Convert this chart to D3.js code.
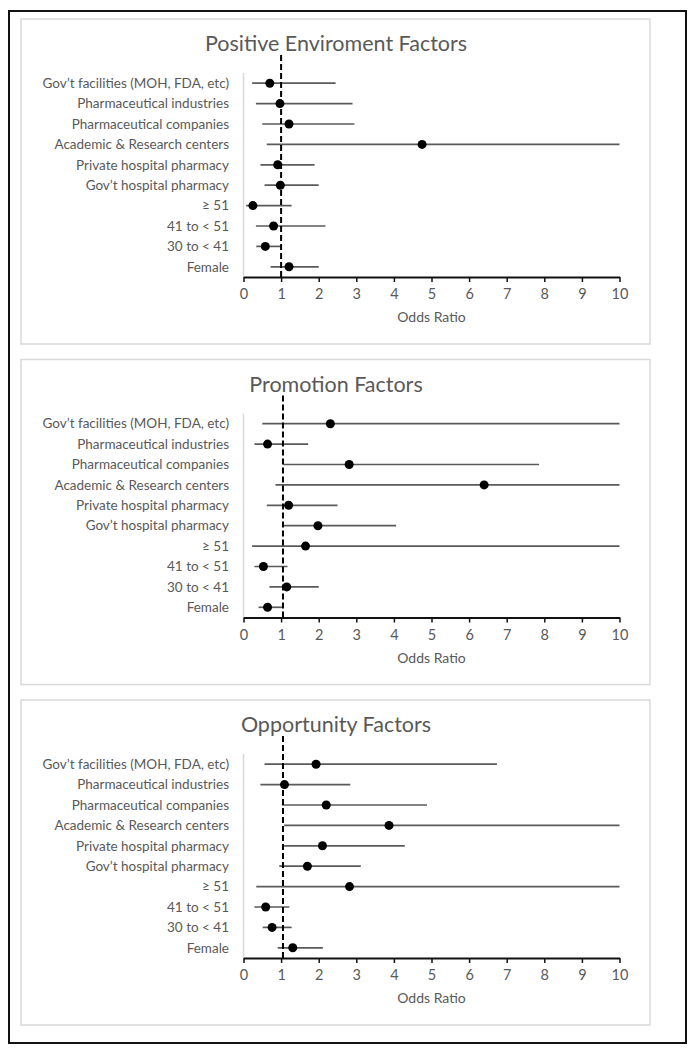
<!doctype html>
<html>
<head>
<meta charset="utf-8">
<style>
  body { margin: 0; background: #fff; }
  text { font-family: Lato, "Open Sans", sans-serif; }
</style>
</head>
<body>
<svg id="chart" width="692" height="1057"></svg>
<script src="https://d3js.org/d3.v7.min.js"></script>
<script>
// categories, top to bottom
const categories = ["Gov’t facilities (MOH, FDA, etc)", "Pharmaceutical industries", "Pharmaceutical companies",
  "Academic & Research centers", "Private hospital pharmacy", "Gov’t hospital pharmacy",
  "≥ 51", "41 to < 51", "30 to < 41", "Female"];

const titles = ["Positive Enviroment Factors", "Promotion Factors", "Opportunity Factors"];
const xTicks = [0, 1, 2, 3, 4, 5, 6, 7, 8, 9, 10];
const refLine = [1, 1.05, 1.05];

// odds ratio + lower / upper CI
const envOR = [0.70, 0.97, 1.21, 4.75, 0.91, 0.98, 0.25, 0.80, 0.58, 1.21];
const envLo = [0.23, 0.33, 0.50, 0.62, 0.45, 0.56, 0.07, 0.33, 0.34, 0.72];
const envHi = [2.45, 2.90, 2.95, 10, 1.89, 2.00, 1.28, 2.18, 0.99, 2.00];

const promOR = [2.31, 0.64, 2.81, 6.40, 1.20, 1.98, 1.65, 0.53, 1.15, 0.64];
const promLo = [0.50, 0.29, 1.06, 0.85, 0.62, 1.04, 0.23, 0.29, 0.69, 0.40];
const promHi = [10, 1.72, 7.86, 10, 2.50, 4.06, 10, 1.17, 2.00, 1.06];

const oppOR = [1.93, 1.09, 2.20, 3.87, 2.10, 1.70, 2.82, 0.59, 0.76, 1.31];
const oppLo = [0.56, 0.45, 1.02, 1.08, 1.08, 0.95, 0.34, 0.29, 0.51, 0.91];
const oppHi = [6.74, 2.84, 4.88, 10, 4.29, 3.12, 10, 1.22, 1.28, 2.11];

const panels = [
  { or: envOR, lo: envLo, hi: envHi },
  { or: promOR, lo: promLo, hi: promHi },
  { or: oppOR, lo: oppLo, hi: oppHi }
];

const svg = d3.select("#chart");

// outer frame
svg.append("rect")
  .attr("x", 9).attr("y", 11)
  .attr("width", 677).attr("height", 1032)
  .attr("fill", "none").attr("stroke", "#111").attr("stroke-width", 2);

const x = d3.scaleLinear().domain([0, 10]).range([243.5, 619.5]);
const y = d3.scaleBand().domain(categories).range([54, 258]);

panels.forEach(function (p, i) {
  const g = svg.append("g").attr("transform", "translate(0," + (19 + 340.5 * i) + ")");

  g.append("rect")
    .attr("x", 21).attr("y", 0)
    .attr("width", 629).attr("height", 325)
    .attr("fill", "#fff").attr("stroke", "#d9d9d9").attr("stroke-width", 1.5);

  g.append("text")
    .attr("x", 336).attr("y", 32)
    .attr("text-anchor", "middle")
    .attr("font-size", "21.5px")
    .attr("fill", "#595959")
    .text(titles[i]);

  // category axis line
  g.append("line")
    .attr("x1", x(0)).attr("x2", x(0))
    .attr("y1", 54).attr("y2", 258)
    .attr("stroke", "#d9d9d9").attr("stroke-width", 1.5);

  // labels
  g.append("g").selectAll("text")
    .data(categories)
    .join("text")
    .attr("x", 229)
    .attr("y", d => y(d) + y.bandwidth() / 2)
    .attr("dy", "0.35em")
    .attr("text-anchor", "end")
    .attr("font-size", "13.5px")
    .attr("fill", "#595959")
    .text(d => d);

  // x axis
  const ax = g.append("g")
    .attr("transform", "translate(0,258)")
    .call(d3.axisBottom(x).tickValues(xTicks).tickSize(5).tickSizeOuter(0).tickPadding(7));
  ax.select(".domain").attr("stroke", "#111").attr("stroke-width", 1.8);
  ax.selectAll(".tick line").attr("stroke", "#111").attr("stroke-width", 1.5);
  ax.selectAll(".tick text")
    .attr("font-family", "Lato, sans-serif")
    .attr("font-size", "14.5px")
    .attr("fill", "#595959");

  g.append("text")
    .attr("x", (x(0) + x(10)) / 2).attr("y", 303)
    .attr("text-anchor", "middle")
    .attr("font-size", "14px")
    .attr("fill", "#595959")
    .text("Odds Ratio");

  // confidence intervals
  g.append("g").selectAll("line")
    .data(categories)
    .join("line")
    .attr("x1", (d, k) => x(p.lo[k]))
    .attr("x2", (d, k) => x(p.hi[k]))
    .attr("y1", d => y(d) + y.bandwidth() / 2)
    .attr("y2", d => y(d) + y.bandwidth() / 2)
    .attr("stroke", "#5a5a5a")
    .attr("stroke-width", 1.7);

  // reference line at OR = 1
  g.append("line")
    .attr("x1", x(refLine[i])).attr("x2", x(refLine[i]))
    .attr("y1", 36).attr("y2", 258)
    .attr("stroke", "#000").attr("stroke-width", 2)
    .attr("stroke-dasharray", "6,3");

  // points
  g.append("g").selectAll("circle")
    .data(categories)
    .join("circle")
    .attr("cx", (d, k) => x(p.or[k]))
    .attr("cy", d => y(d) + y.bandwidth() / 2)
    .attr("r", 4.5)
    .attr("fill", "#000");
});
</script>
</body>
</html>
